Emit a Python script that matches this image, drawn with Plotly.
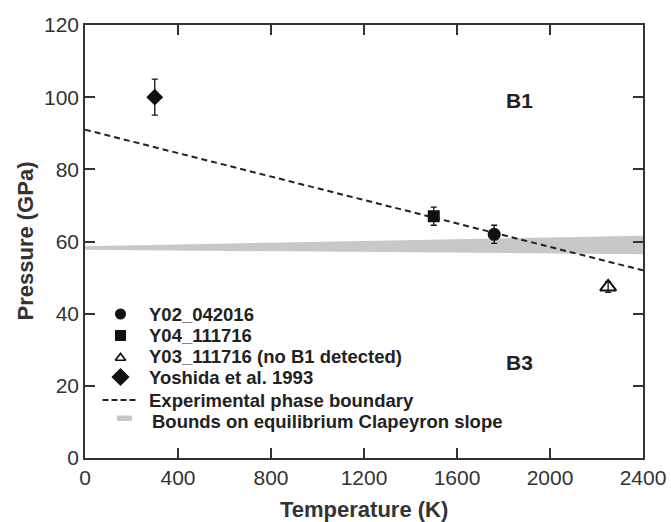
import plotly.graph_objects as go

# ---------------- data ----------------
T_y02 = [1760]; P_y02 = [62.0]; E_y02 = [2.5]
T_y04 = [1500]; P_y04 = [67.0]; E_y04 = [2.5]
T_y03 = [2250]; P_y03 = [47.4]; E_y03 = [1.5]
T_yos = [300];  P_yos = [100.0]; E_yos = [5.0]

T_boundary = [0, 2400]
P_boundary = [91.0, 52.0]

T_band = [0, 2400]
P_band_low = [57.7, 56.5]
P_band_high = [58.7, 61.6]

x_ticks = [0, 400, 800, 1200, 1600, 2000, 2400]
y_ticks = [0, 20, 40, 60, 80, 100, 120]

x_title = "Temperature (K)"
y_title = "Pressure (GPa)"

legend_labels = ["Y02_042016", "Y04_111716", "Y03_111716 (no B1 detected)",
                 "Yoshida et al. 1993", "Experimental phase boundary",
                 "Bounds on equilibrium Clapeyron slope"]

region_labels = ["B1", "B3"]
region_T = [1870, 1870]
region_P = [99.0, 26.5]

FONT = "Liberation Sans, Arial, Helvetica, sans-serif"
DARK = "#222222"
AX = "#333333"

# ---------------- plot area geometry (pixels) ----------------
W, H = 671, 522
L, R, T, B = 85, 28, 25, 64
pw, ph = W - L - R, H - T - B

def px_x(px):
    return (px - L) / pw

def px_y(py):
    return (H - B - py) / ph

fig = go.Figure()

# band
fig.add_trace(go.Scatter(x=T_band, y=P_band_low, mode="lines",
                         line=dict(width=0, color="#c8c8c8"), showlegend=False, hoverinfo="skip"))
fig.add_trace(go.Scatter(x=T_band, y=P_band_high, mode="lines", fill="tonexty",
                         fillcolor="#c8c8c8", line=dict(width=0, color="#c8c8c8"),
                         showlegend=False, hoverinfo="skip"))
# dashed boundary
fig.add_trace(go.Scatter(x=T_boundary, y=P_boundary, mode="lines",
                         line=dict(color=DARK, width=2, dash="6px,4px"), showlegend=False))

def pts(x, y, e, symbol, size, open_=False):
    mk = dict(symbol=symbol, size=size, color="#111111",
              line=dict(color="#111111", width=2 if open_ else 0))
    return go.Scatter(x=x, y=y, mode="markers", marker=mk,
                      error_y=dict(type="data", array=e, visible=True,
                                   color="#111111", thickness=1.3, width=3),
                      showlegend=False, cliponaxis=False)

fig.add_trace(pts(T_y02, P_y02, E_y02, "circle", 13))
fig.add_trace(pts(T_y04, P_y04, E_y04, "square", 12))
fig.add_trace(pts(T_y03, P_y03, E_y03, "triangle-up-open", 14, open_=True))
fig.add_trace(pts(T_yos, P_yos, E_yos, "diamond", 13))

# ---------------- manual legend ----------------
rows_px = [314, 335.5, 356.5, 377, 400, 421]
sym_x = px_x(120.5)
leg_syms = [("circle", 11, False), ("square", 11, False),
            ("triangle-up-open", 9, True), ("diamond", 14, False)]
row_adj = [0, 0, 1.5, 0]
for i, (sym, sz, open_) in enumerate(leg_syms):
    fig.add_trace(go.Scatter(
        x=[sym_x], y=[px_y(rows_px[i] + row_adj[i])], xaxis="x2", yaxis="y2", mode="markers",
        marker=dict(symbol=sym, size=sz, color="#111111",
                    line=dict(color="#111111", width=1.7 if open_ else 0)),
        showlegend=False, hoverinfo="skip", cliponaxis=False))

fig.add_shape(type="line", xref="paper", yref="paper",
              x0=px_x(102.5), x1=px_x(136), y0=px_y(rows_px[4]), y1=px_y(rows_px[4]),
              line=dict(color=DARK, width=2, dash="6px,3px"))
fig.add_shape(type="rect", xref="paper", yref="paper",
              x0=px_x(117), x1=px_x(132), y0=px_y(415.5), y1=px_y(421),
              fillcolor="#c8c8c8", line=dict(width=0))

text_x = [146.5, 146.5, 146.5, 146.5, 146.5, 149.5]
for i, lab in enumerate(legend_labels):
    fig.add_annotation(x=px_x(text_x[i]), y=px_y(rows_px[i]), xref="paper", yref="paper",
                       text=lab, showarrow=False, xanchor="left", yanchor="middle",
                       font=dict(family=FONT, size=18.5, color=DARK, weight="bold"))

for lab, tx, py in zip(region_labels, region_T, region_P):
    fig.add_annotation(x=tx, y=py, text=lab, showarrow=False,
                       font=dict(family=FONT, size=21, color=DARK, weight="bold"))

# axis titles as annotations for exact placement
fig.add_annotation(x=0.5, y=px_y(509), xref="paper", yref="paper", text=x_title,
                   showarrow=False, xanchor="center", yanchor="middle",
                   font=dict(family=FONT, size=22, color=AX, weight="bold"))
fig.add_annotation(x=px_x(25), y=0.5, xref="paper", yref="paper", text=y_title,
                   showarrow=False, xanchor="center", yanchor="middle", textangle=-90,
                   font=dict(family=FONT, size=22, color=AX, weight="bold"))

axis_common = dict(showline=True, linecolor=AX, linewidth=1.5, mirror="ticks",
                   ticks="inside", ticklen=10, tickwidth=1.5, tickcolor=AX,
                   showgrid=False, zeroline=False,
                   tickfont=dict(family=FONT, size=21, color=AX))

fig.update_layout(
    width=W, height=H,
    margin=dict(l=L, r=R, t=T, b=B, autoexpand=False),
    paper_bgcolor="white", plot_bgcolor="white",
    showlegend=False,
    xaxis=dict(range=[0, 2400], tickvals=x_ticks, automargin=False, **axis_common),
    yaxis=dict(range=[0, 120], tickvals=y_ticks, automargin=False, **axis_common),
    xaxis2=dict(range=[0, 1], overlaying="x", visible=False, fixedrange=True),
    yaxis2=dict(range=[0, 1], overlaying="y", visible=False, fixedrange=True),
)

fig.write_html("out.html", config={"displayModeBar": False},
               post_script="document.body.style.margin='0px';document.body.style.overflow='hidden';")
